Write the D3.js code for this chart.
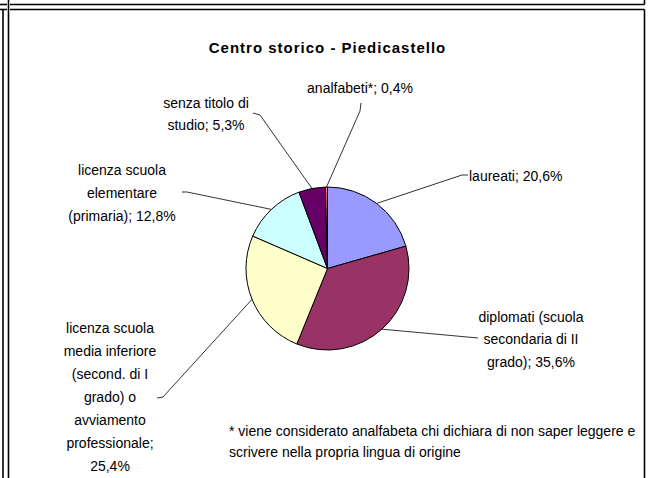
<!DOCTYPE html>
<meta charset="utf-8">
<style>

body {
  margin: 0;
  background: #fff;
}

svg {
  font-family: "Liberation Sans", Arial, sans-serif;
  font-size: 14px;
}

.title {
  font-size: 15px;
  font-weight: bold;
  letter-spacing: 1px;
  text-anchor: middle;
}

.frame line {
  stroke: #000;
  stroke-width: 1.6px;
}

.slices path {
  stroke: #000;
  stroke-width: 1px;
}

.leaders path {
  fill: none;
  stroke: #000;
  stroke-width: 0.8px;
}

.labels text {
  fill: #000;
}

</style>
<svg></svg>
<script src="https://d3js.org/d3.v7.min.js"></script>
<script>

// data
var categories = [
  'laureati',
  'diplomati (scuola secondaria di II grado)',
  'licenza scuola media inferiore (second. di I grado) o avviamento professionale',
  'licenza scuola elementare (primaria)',
  'senza titolo di studio',
  'analfabeti*'
];
var values = [20.6, 35.6, 25.4, 12.8, 5.3, 0.4];
var colors = ['#9999FF', '#993366', '#FFFFCC', '#CCFFFF', '#660066', '#FF8080'];

// label text, wrapped as in the original; {v} is replaced by the value
var labelLines = [
  ['laureati; {v}'],
  ['diplomati (scuola', 'secondaria di II', 'grado); {v}'],
  ['licenza scuola', 'media inferiore', '(second. di I', 'grado) o', 'avviamento', 'professionale;', '{v}'],
  ['licenza scuola', 'elementare', '(primaria); {v}'],
  ['senza titolo di', 'studio; {v}'],
  ['analfabeti*; {v}']
];

var title = 'Centro storico - Piedicastello';
var footnote = [
  '* viene considerato analfabeta chi dichiara di non saper leggere e',
  'scrivere nella propria lingua di origine'
];

// layout of the labels (where Excel placed them)
var labelLayout = [
  {x: 469, y: 176, anchor: 'start', lh: 22, elbow: [462, 175], end: [468, 175]},
  {x: 531, y: 317, anchor: 'middle', lh: 22.5, elbow: [478, 338], end: [478, 338]},
  {x: 110, y: 328, anchor: 'middle', lh: 23, elbow: [163, 397], end: [157, 398]},
  {x: 122, y: 170, anchor: 'middle', lh: 23, elbow: [187, 192], end: [182, 192]},
  {x: 206, y: 103, anchor: 'middle', lh: 22, elbow: [260, 115], end: [253, 113]},
  {x: 360, y: 88, anchor: 'middle', lh: 22, elbow: [360, 111], end: [361, 103]}
];

var width = 648;
var height = 478;
var cx = 327.5;
var cy = 268.5;
var radius = 81.5;

var fmt = function (v) { return d3.format('.1f')(v).replace('.', ',') + '%'; };

var svg = d3.select('svg')
  .attr('width', width)
  .attr('height', height);

// table-like frame around the chart
var frame = svg.append('g').attr('class', 'frame');
[
  [0, 4.5, 7, 4.5], [10, 4.5, 644.5, 4.5],
  [0, 9.5, 7, 9.5], [10, 9.5, 644.5, 9.5],
  [8.5, 0, 8.5, height],
  [3, 9.5, 3, height],
  [644.5, 0, 644.5, 4.5], [644.5, 9.5, 644.5, height]
].forEach(function (l) {
  frame.append('line')
    .attr('x1', l[0]).attr('y1', l[1])
    .attr('x2', l[2]).attr('y2', l[3]);
});

svg.append('text')
  .attr('class', 'title')
  .attr('x', cx)
  .attr('y', 48)
  .attr('dy', '0.35em')
  .text(title);

var data = categories.map(function (c, i) {
  return {name: c, value: values[i], color: colors[i], lines: labelLines[i], pos: labelLayout[i]};
});

var pie = d3.pie().sort(null).value(function (d) { return d.value; });
var arc = d3.arc().innerRadius(0).outerRadius(radius);
var arcs = pie(data);

var g = svg.append('g')
  .attr('transform', 'translate(' + cx + ',' + cy + ')');

g.append('g')
  .attr('class', 'slices')
  .selectAll('path')
  .data(arcs)
  .enter().append('path')
  .attr('d', arc)
  .attr('fill', function (d) { return d.data.color; });

// leader lines from the slice edge to the labels
svg.append('g')
  .attr('class', 'leaders')
  .selectAll('path')
  .data(arcs)
  .enter().append('path')
  .attr('d', function (d) {
    var a = (d.startAngle + d.endAngle) / 2;
    var sx = cx + radius * Math.sin(a);
    var sy = cy - radius * Math.cos(a);
    var p = d.data.pos;
    return d3.line()([[sx, sy], p.elbow, p.end]);
  });

var labels = svg.append('g')
  .attr('class', 'labels')
  .selectAll('text')
  .data(data)
  .enter().append('text')
  .attr('text-anchor', function (d) { return d.pos.anchor; });

labels.selectAll('tspan')
  .data(function (d) {
    return d.lines.map(function (t, j) {
      return {text: t.replace('{v}', fmt(d.value)), x: d.pos.x, y: d.pos.y + j * d.pos.lh};
    });
  })
  .enter().append('tspan')
  .attr('x', function (d) { return d.x; })
  .attr('y', function (d) { return d.y; })
  .attr('dy', '0.35em')
  .text(function (d) { return d.text; });

svg.append('g')
  .attr('class', 'labels')
  .selectAll('text')
  .data(footnote)
  .enter().append('text')
  .attr('x', 229)
  .attr('y', function (d, i) { return 431 + i * 21.5; })
  .attr('dy', '0.35em')
  .text(function (d) { return d; });

</script>
